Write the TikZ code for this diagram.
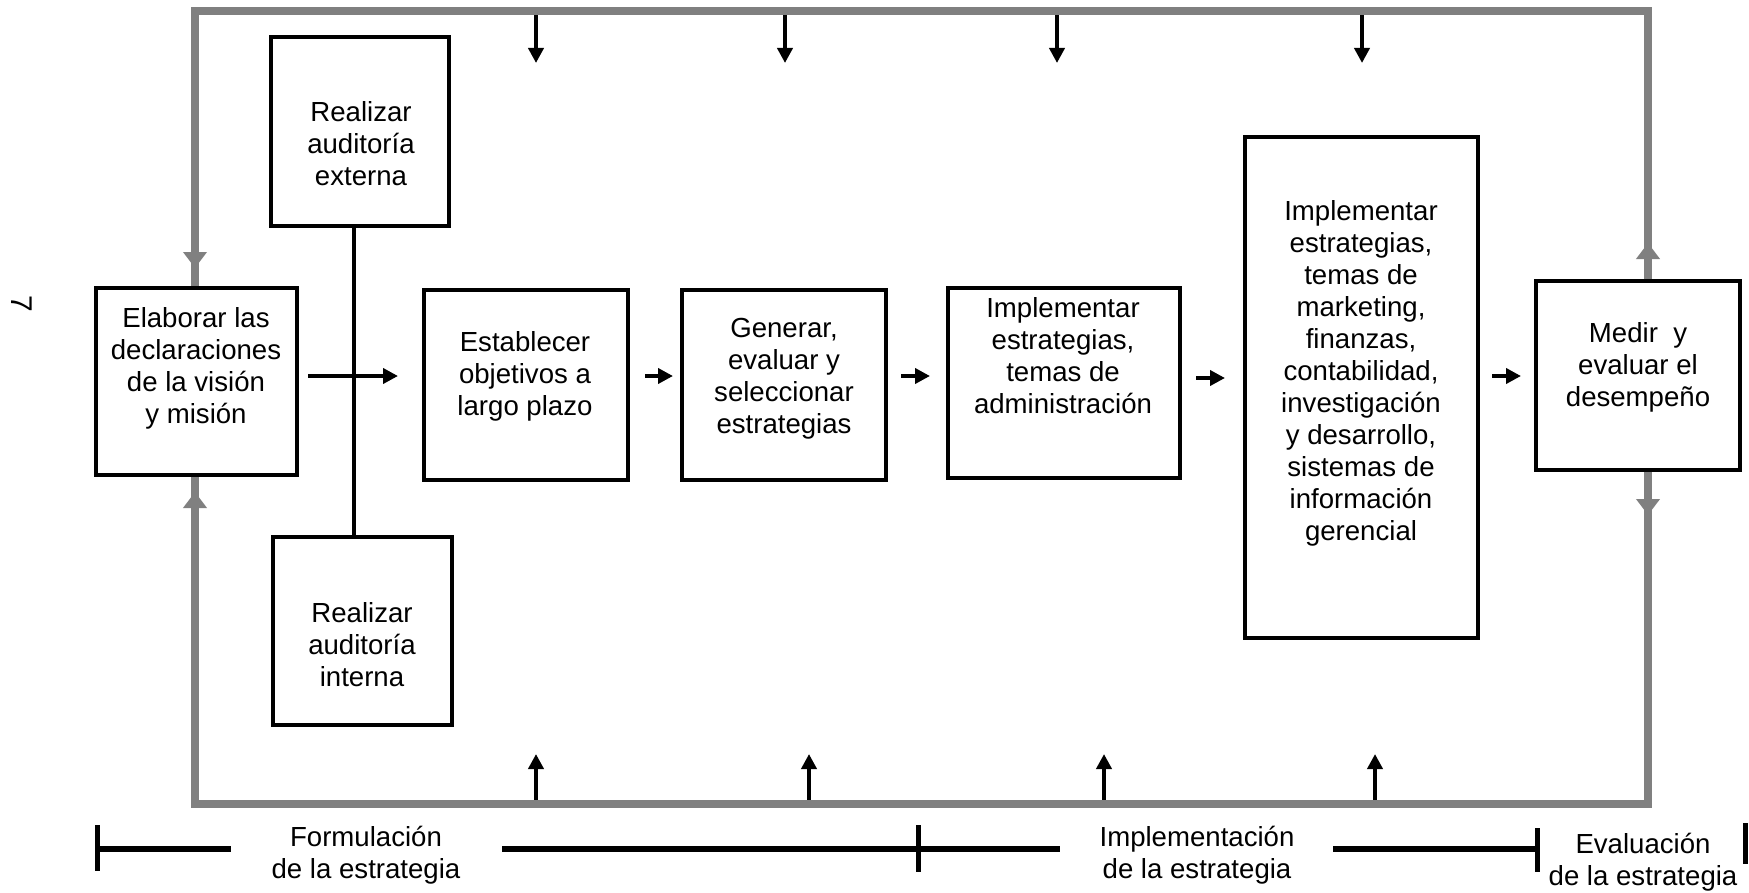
\documentclass[tikz,border=0pt]{standalone}
\usepackage{fontspec}
\setmainfont{Liberation Sans}
\usetikzlibrary{arrows.meta}
\definecolor{loopgray}{RGB}{128,128,128}
\tikzset{
  boxdim/.style 2 args={minimum width=#1*0.5pt, minimum height=#2*0.5pt},
  stagebox/.style={draw=black, line width=1.8pt, fill=white, inner sep=0pt},
  stagetext/.style={align=center, inner sep=0pt, font=\fontsize{13.8pt}{16pt}\selectfont},
  feedback/.style={draw=loopgray, line width=3.8pt},
  feedhead/.style={draw=loopgray, line width=3.8pt, -{Triangle[length=8pt,width=11.5pt]}},
  flow/.style={draw=black, line width=2pt, -{Triangle[length=7.5pt,width=7.5pt]}},
  link/.style={draw=black, line width=1.6pt},
  phase/.style={draw=black, line width=3pt},
  phasetick/.style={draw=black, line width=2.5pt},
}
\begin{document}
\begin{tikzpicture}[x=0.5pt, y=-0.5pt]
\useasboundingbox (0,0) rectangle (1749,893);

% corners of the feedback loop
\coordinate (tl) at (195,11);
\coordinate (tr) at (1648,11);
\coordinate (bl) at (195,804);
\coordinate (br) at (1648,804);

% inputs entering from the top and bottom of the loop
\foreach \x [count=\i] in {536,785,1057,1362} {
  \coordinate (in-top-\i) at (\x,11);
  \draw[flow] (in-top-\i) -- ++(0,52);
}
\foreach \x [count=\i] in {536,809,1104,1375} {
  \coordinate (in-bot-\i) at (\x,804);
  \draw[flow] (in-bot-\i) -- ++(0,-50);
}

% process stages
\node[stagebox, boxdim={201.4}{187.4}] (elab)  at (196.5,381.5) {};
\node[stagebox, boxdim={178.4}{189.4}] (ext)   at (360,131.5) {};
\node[stagebox, boxdim={179.4}{188.4}] (int)   at (362.5,631) {};
\node[stagebox, boxdim={204.4}{190.4}] (estab) at (526,385) {};
\node[stagebox, boxdim={204.4}{190.4}] (gen)   at (784,385) {};
\node[stagebox, boxdim={232.4}{190.4}] (adm)   at (1064,383) {};
\node[stagebox, boxdim={233.4}{501.4}] (func)  at (1361.5,387.5) {};
\node[stagebox, boxdim={204.4}{189.4}] (medir) at (1638,375.5) {};

% feedback loop from evaluation back to the mission statement
\draw[feedback] (medir.north -| tr) -- (tr) -- (tl) -- (elab.north -| tl);
\draw[feedback] (medir.south -| br) -- (br) -- (bl) -- (elab.south -| bl);
\draw[feedhead] (195,250) -- (195,268);
\draw[feedhead] (195,510) -- (195,492);
\draw[feedhead] (1648,261) -- (1648,243);
\draw[feedhead] (1648,497) -- (1648,515);

% stage captions
\node[stagetext] (elab-t)  at (196,368)  {Elaborar las\\declaraciones\\de la visión\\y misión};
\node[stagetext] (ext-t)   at (361,144)  {Realizar\\auditoría\\externa};
\node[stagetext] (int-t)   at (362,645)  {Realizar\\auditoría\\interna};
\node[stagetext] (estab-t) at (525,376)  {Establecer\\objetivos a\\largo plazo};
\node[stagetext] (gen-t)   at (784,379)  {Generar,\\evaluar y\\seleccionar\\estrategias};
\node[stagetext] (adm-t)   at (1063,356) {Implementar\\estrategias,\\temas de\\administración};
\node[stagetext] (func-t)  at (1361,373) {Implementar\\estrategias,\\temas de\\marketing,\\finanzas,\\contabilidad,\\investigación\\y desarrollo,\\sistemas de\\información\\gerencial};
\node[stagetext] (medir-t) at (1638,367) {Medir~ y\\evaluar el\\desempeño};

% audits feed the first step
\coordinate (vx) at (354,0);
\draw[link] (ext.south -| vx) -- (int.north -| vx);

% main flow
\coordinate (ay) at (0,376);
\coordinate (by) at (0,378);
\draw[flow, shorten <=4.5pt, shorten >=12pt]  (elab.east |- ay)  -- (estab.west |- ay);
\draw[flow, shorten <=7.5pt, shorten >=3.5pt] (estab.east |- ay) -- (gen.west |- ay);
\draw[flow, shorten <=6.5pt, shorten >=8pt]   (gen.east |- ay)   -- (adm.west |- ay);
\draw[flow, shorten <=7pt, shorten >=9pt]     (adm.east |- by)   -- (func.west |- by);
\draw[flow, shorten <=6pt, shorten >=6.5pt]   (func.east |- ay)  -- (medir.west |- ay);

% rotated page number
\node[rotate=-90, inner sep=0pt, font=\fontsize{15pt}{18pt}\selectfont] (pagenum) at (21.5,304) {7};

% phases of the process
\node[stagetext] (form-l) at (366,855)  {Formulación\\de la estrategia};
\node[stagetext] (impl-l) at (1197,855) {Implementación\\de la estrategia};
\node[stagetext] (eval-l) at (1643,862) {Evaluación\\de la estrategia};

\draw[phasetick] (97,825) -- (97,871);
\draw[phasetick] (918,825) -- (918,872);
\draw[phasetick] (1537,828) -- (1537,872);
\draw[phasetick] (1745,823) -- (1745,864);
\draw[phase] (97,849) -- (231,849);
\draw[phase] (502,849) -- (1060,849);
\draw[phase] (1333,849) -- (1537,849);
\end{tikzpicture}
\end{document}
